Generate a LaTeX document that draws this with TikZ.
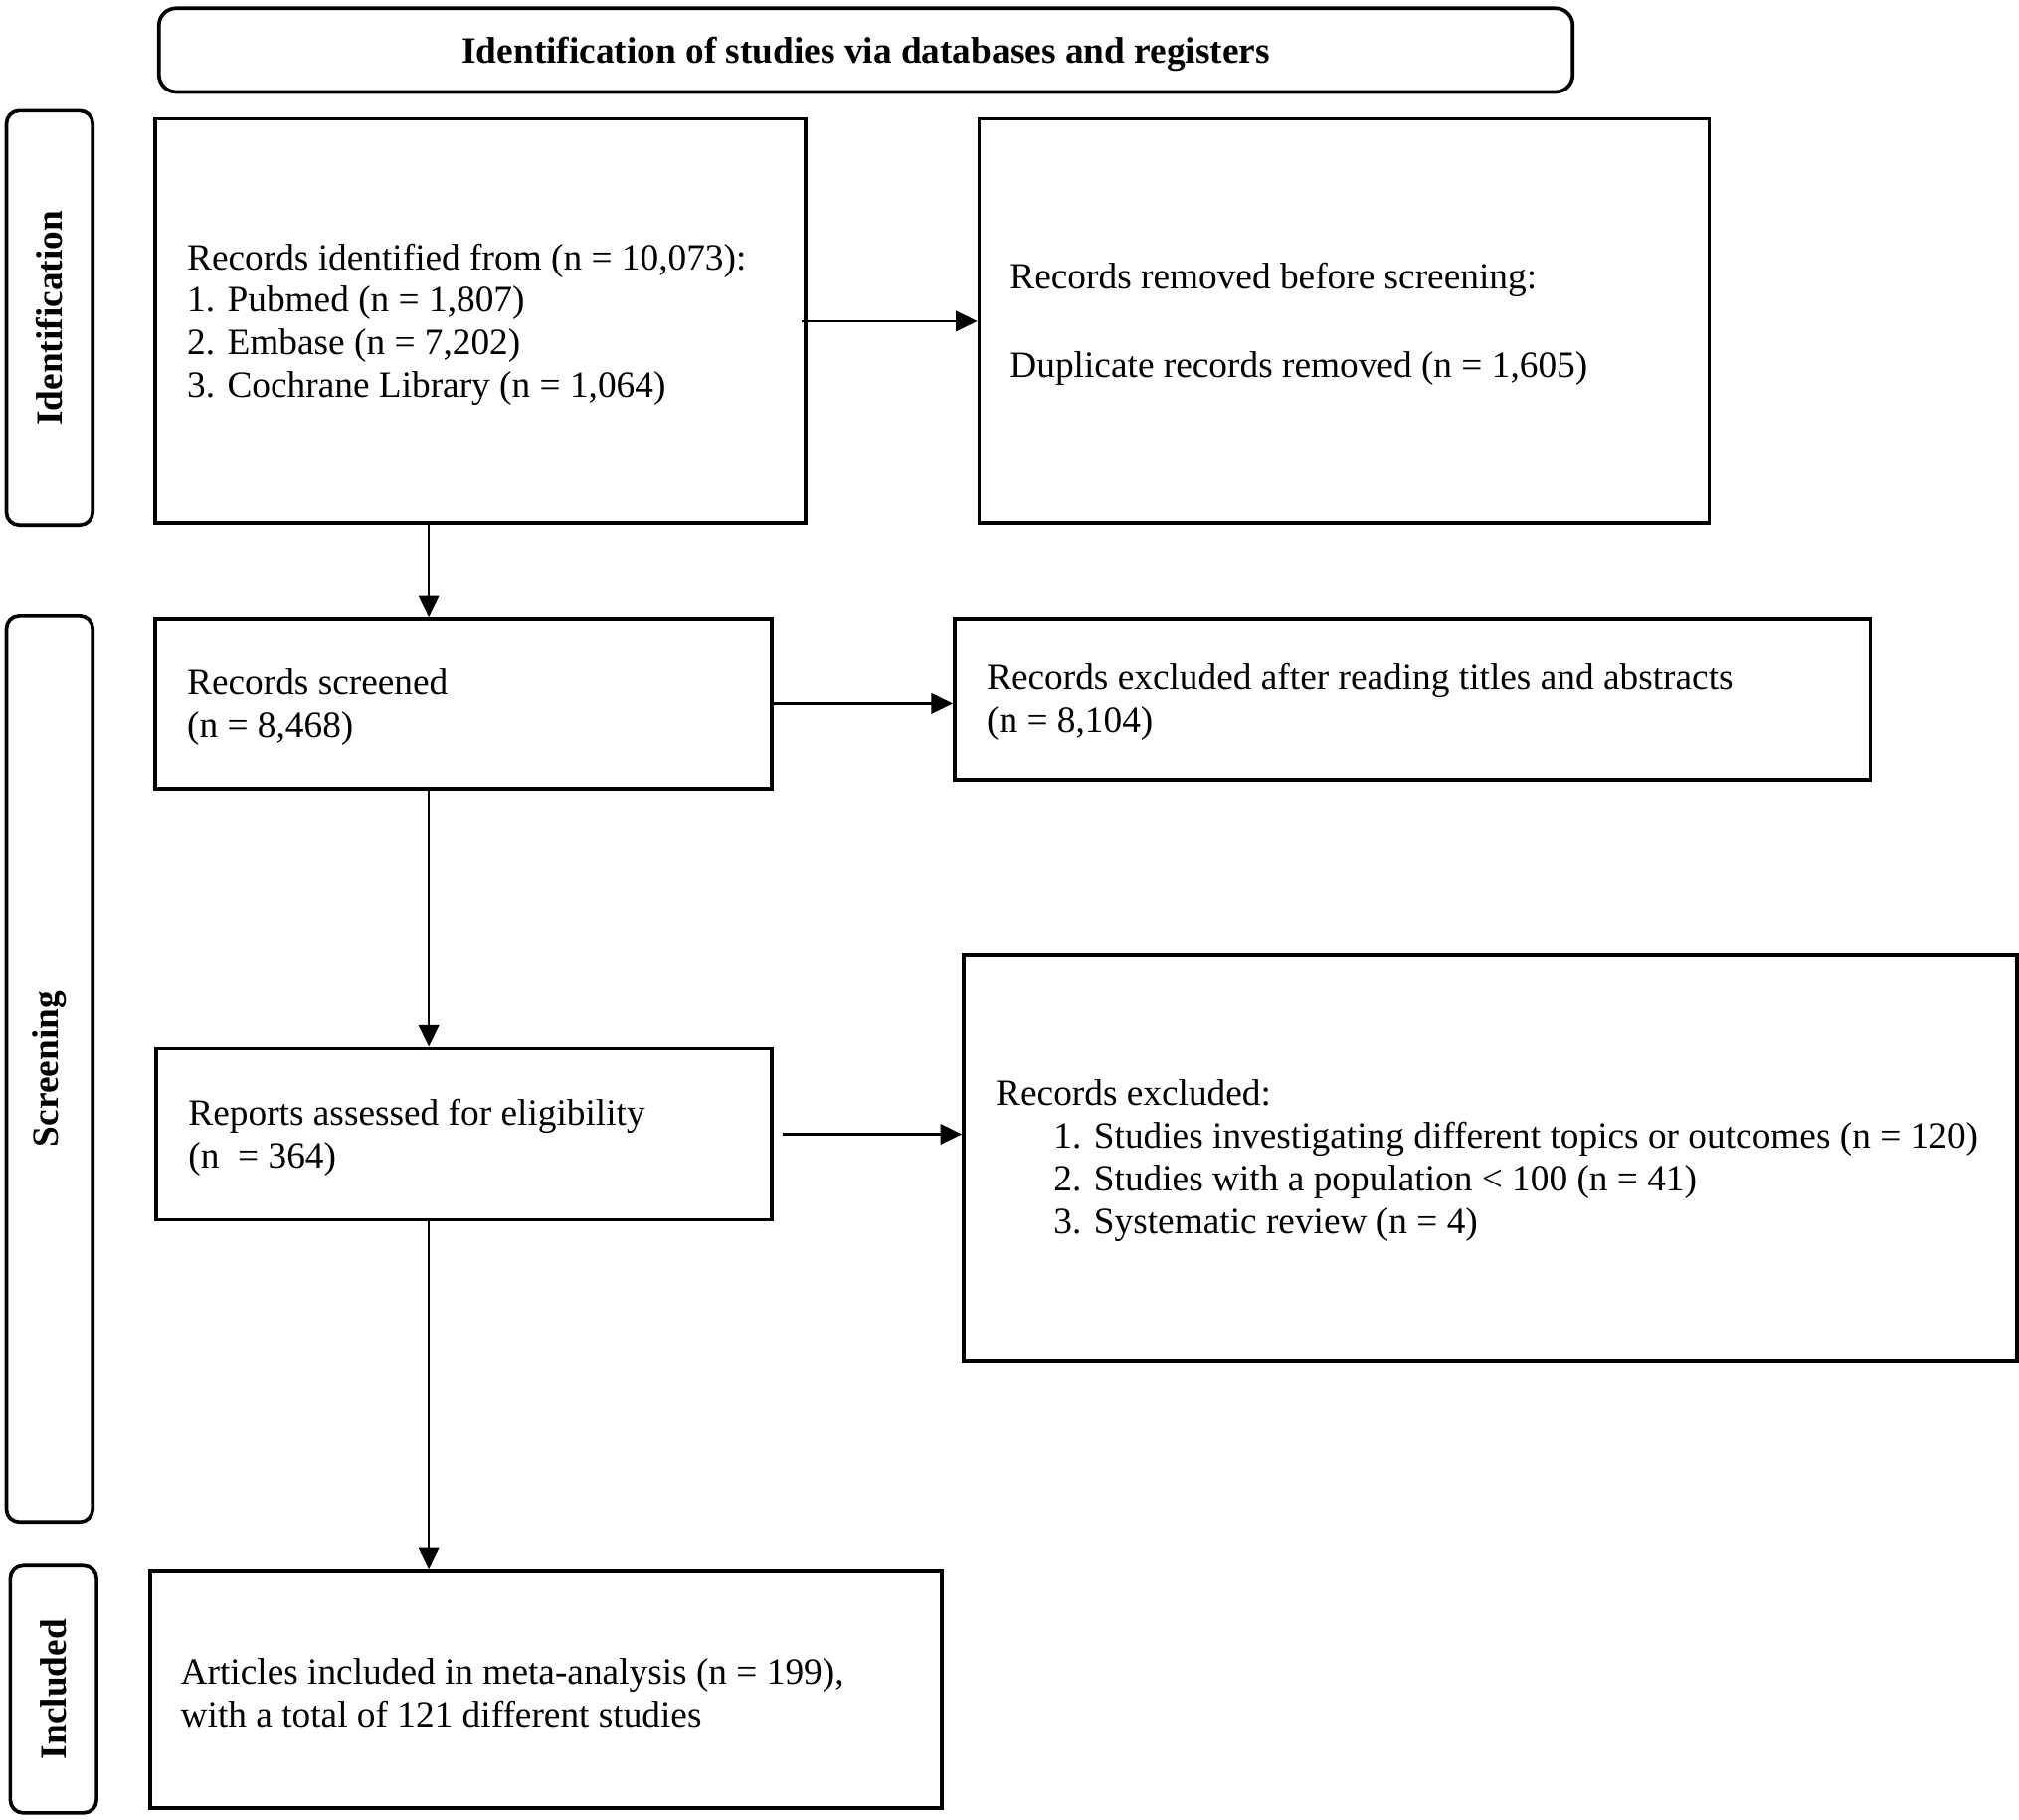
\documentclass[tikz,border=0pt]{standalone}
\usepackage{fontspec}
\setmainfont{Liberation Serif}
\usetikzlibrary{arrows.meta}
\begin{document}
\begin{tikzpicture}[x=0.6pt,y=-0.6pt,
 box/.style={draw,line width=1.7pt,rectangle,inner sep=0pt,anchor=north west},
 side/.style={draw,line width=1.7pt,rectangle,rounded corners=6pt,inner sep=0pt},
 txt/.style={inner sep=0pt,align=left,anchor=west,yshift=-1.5pt,font=\fontsize{17.3pt}{19.8pt}\selectfont},
 lab/.style={inner sep=0pt,rotate=90,font=\bfseries\fontsize{17.3pt}{19.8pt}\selectfont},
 arr/.style={-{Triangle[length=10pt,width=9.5pt]},line width=1pt}]
\useasboundingbox (0,0) rectangle (1568,1413);
% title
\node[box,rounded corners=8pt,minimum width=658.8pt,minimum height=39pt] (title) at (122,5) {};
\node[inner sep=0pt,yshift=-1.8pt,font=\bfseries\fontsize{17.3pt}{19.8pt}\selectfont] (ttitle) at (title.center)
      {Identification of studies via databases and registers};
% side labels
\node[side,minimum width=40.2pt,minimum height=193.2pt] (sI) at (38.5,247) {};
\node[lab] (lI) at (sI.center) {Identification};
\node[side,minimum width=40.2pt,minimum height=422.4pt] (sS) at (38.5,830) {};
\node[lab] (lS) at (sS.center) {Screening};
\node[side,minimum width=40.2pt,minimum height=115.2pt] (sN) at (41.5,1312) {};
\node[lab] (lN) at (sN.center) {Included};
% boxes
\node[box,minimum width=303pt,minimum height=188.4pt] (A) at (119,91) {};
\node[box,minimum width=340.2pt,minimum height=188.4pt] (B) at (759,91) {};
\node[box,minimum width=287.4pt,minimum height=79.2pt] (C) at (119,479) {};
\node[box,minimum width=426.6pt,minimum height=75pt] (D) at (740,479) {};
\node[box,minimum width=286.8pt,minimum height=79.8pt] (E) at (120,813) {};
\node[box,minimum width=490.8pt,minimum height=189pt] (F) at (747,740) {};
\node[box,minimum width=369pt,minimum height=110.4pt] (G) at (115,1219) {};
% texts
\node[txt] (tA) at ([xshift=15.6pt]A.west) {Records identified from (n = 10,073):\\1. Pubmed (n = 1,807)\\2. Embase (n = 7,202)\\3. Cochrane Library (n = 1,064)};
\node[txt] (tB) at ([xshift=15pt]B.west) {Records removed before screening:\\[21.6pt]Duplicate records removed (n = 1,605)};
\node[txt] (tC) at ([xshift=15.6pt]C.west) {Records screened\\(n = 8,468)};
\node[txt] (tD) at ([xshift=15.6pt]D.west) {Records excluded after reading titles and abstracts\\(n = 8,104)};
\node[txt] (tE) at ([xshift=15.6pt]E.west) {Reports assessed for eligibility\\(n\ \ = 364)};
\node[txt] (tF) at ([xshift=15.6pt]F.west) {Records excluded:\\\hspace*{27pt}1. Studies investigating different topics or outcomes (n = 120)\\\hspace*{27pt}2. Studies with a population < 100 (n = 41)\\\hspace*{27pt}3. Systematic review (n = 4)};
\node[txt] (tG) at ([xshift=15pt]G.west) {Articles included in meta-analysis (n = 199),\\with a total of 121 different studies};
% connectors
\coordinate (vx) at (333,0);
\draw[arr] ([xshift=-2.4pt]A.east) -- (B.west |- A.east);
\draw[arr] (A.south -| vx) -- (C.north -| vx);
\draw[arr] (C.east) -- (D.west |- C.east);
\draw[arr] (C.south -| vx) -- (E.north -| vx);
\draw[arr] ([xshift=4.2pt]E.east) -- (F.west |- E.east);
\draw[arr] (E.south -| vx) -- (G.north -| vx);
\end{tikzpicture}
\end{document}
